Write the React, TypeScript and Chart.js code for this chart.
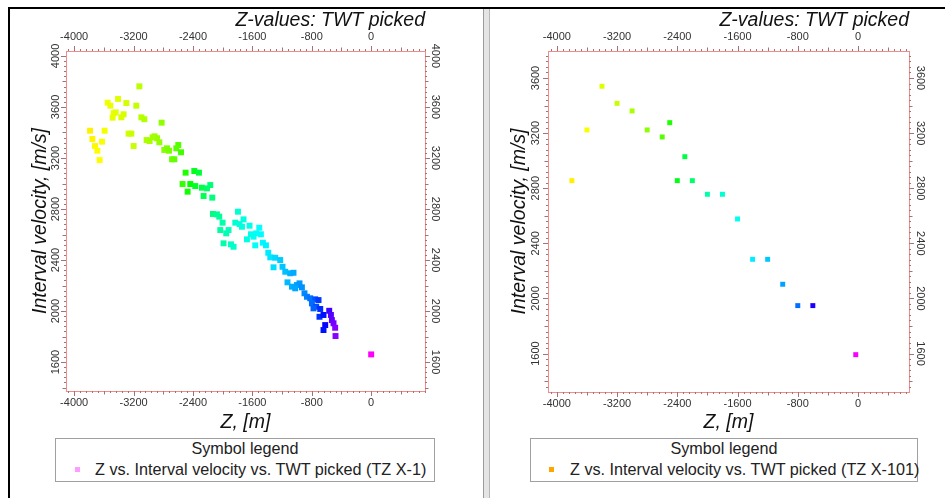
import React, { useEffect, useRef } from 'react';
import { Chart, registerables } from 'chart.js';

Chart.register(...registerables);

const FONT = "'Liberation Sans', Arial, sans-serif";

// ---- Well TZ X-1 : Z [m] and interval velocity [m/s] ----
const x1Z = [
  -3122, -3549, -3513, -3409, -3297, -3163, -3468, -3482, -3441, -3334,
  -3365, -3095, -3055, -2822, -3786, -3590, -3755, -3625, -3719, -3688,
  -3657, -3267, -3230, -3199, -3024, -2984, -2917, -2884, -2853, -2943,
  -2786, -2750, -2723, -2598, -2624, -2561, -2682, -2651, -2499, -2382,
  -2319, -2540, -2436, -2472, -2369, -2279, -2211, -2167, -2257, -2140,
  -2131, -2077, -2046, -1794, -2001, -1830, -1773, -1719, -1740, -1638,
  -1507, -1921, -1952, -2032, -1619, -1548, -1485, -1673, -1561, -1584,
  -1988, -1888, -1853, -1458, -1417, -1386, -1359, -1292, -1225, -1315,
  -1194, -1157, -1090, -1046, -1127, -1067, -1000, -965, -933, -1023,
  -898, -865, -821, -754, -709, -798, -740, -777, -686, -696,
  -642, -565, -542, -529, -507, -485, -619, -642, -480, 0,
];
const x1Velocity = [
  3762, 3634, 3610, 3663, 3631, 3610, 3551, 3516, 3558, 3543,
  3519, 3519, 3504, 3477, 3414, 3414, 3349, 3328, 3294, 3257,
  3184, 3391, 3391, 3294, 3341, 3333, 3370, 3355, 3323, 3362,
  3263, 3276, 3257, 3302, 3276, 3245, 3190, 3190, 3085, 3098,
  3085, 2996, 2996, 2936, 2980, 2967, 2962, 2988, 2902, 2889,
  2761, 2758, 2740, 2779, 2693, 2693, 2682, 2719, 2661, 2669,
  2653, 2635, 2609, 2635, 2602, 2609, 2602, 2562, 2515, 2583,
  2531, 2523, 2504, 2536, 2515, 2457, 2421, 2418, 2400, 2343,
  2347, 2308, 2296, 2300, 2225, 2191, 2204, 2217, 2186, 2178,
  2139, 2112, 2100, 2092, 2086, 2060, 2034, 2021, 2016, 1955,
  1969, 2002, 1969, 1929, 1904, 1869, 1890, 1851, 1804, 1660,
];

// ---- Well TZ X-101 ----
const x101Z = [
  -3800, -3600, -3400, -3200, -3000, -2800, -2600, -2500, -2400, -2300,
  -2200, -2000, -1800, -1600, -1400, -1200, -1000, -800, -600, -30,
];
const x101Velocity = [
  2855, 3223, 3540, 3416, 3361, 3223, 3172, 3276, 2855, 3029,
  2855, 2756, 2756, 2577, 2284, 2284, 2103, 1948, 1948, 1592,
];

// ---- tick labels ----
const zTickLabels = [-4000, -3200, -2400, -1600, -800, 0];
const x1VelTickLabels = [1600, 2000, 2400, 2800, 3200, 3600, 4000];
const x101VelTickLabels = [1600, 2000, 2400, 2800, 3200, 3600];

// ---- colour scale (hue by depth / TWT) ----
const hueStopZ = [-3850, -3600, -3200, -2800, -2600, -2400, -2200, -2000, -1800, -1600, -1400, -1200, -1000, -800, -650, -550, -480, 0];
const hueStopH = [55, 62, 73, 87, 100, 125, 145, 160, 170, 176, 184, 193, 202, 214, 235, 258, 272, 300];

function colorForZ(z: number): string {
  let h = hueStopH[0];
  if (z >= hueStopZ[hueStopZ.length - 1]) h = hueStopH[hueStopH.length - 1];
  else if (z > hueStopZ[0]) {
    for (let i = 0; i < hueStopZ.length - 1; i++) {
      if (z >= hueStopZ[i] && z <= hueStopZ[i + 1]) {
        const t = (z - hueStopZ[i]) / (hueStopZ[i + 1] - hueStopZ[i]);
        h = hueStopH[i] + t * (hueStopH[i + 1] - hueStopH[i]);
        break;
      }
    }
  }
  return `hsl(${h.toFixed(1)}, 100%, 50%)`;
}

const axisTickPlugin = {
  id: 'axisTicks',
  afterDraw(chart: any) {
    const ctx = chart.ctx;
    const a = chart.chartArea;
    ctx.save();
    ctx.strokeStyle = '#a87070';
    ctx.lineWidth = 1;
    ctx.beginPath();
    const each = (scale: any, step: number, mid: number, major: number, draw: (p: number, l: number) => void) => {
      const start = Math.ceil(scale.min / step) * step;
      for (let v = start; v <= scale.max + 1e-6; v += step) {
        const r = Math.round(v);
        const len = r % major === 0 ? 5 : r % mid === 0 ? 3.5 : 2;
        draw(Math.round(scale.getPixelForValue(v)) + 0.5, len);
      }
    };
    each(chart.scales.x, 80, 400, 800, (p, l) => { ctx.moveTo(p, a.bottom); ctx.lineTo(p, a.bottom + l); });
    each(chart.scales.x2, 80, 400, 800, (p, l) => { ctx.moveTo(p, a.top); ctx.lineTo(p, a.top - l); });
    each(chart.scales.y, 40, 200, 400, (p, l) => { ctx.moveTo(a.left, p); ctx.lineTo(a.left - l, p); });
    each(chart.scales.y2, 40, 200, 400, (p, l) => { ctx.moveTo(a.right, p); ctx.lineTo(a.right + l, p); });
    ctx.stroke();
    ctx.restore();
  },
};

type ChartProps = {
  z: number[];
  vel: number[];
  xMin: number;
  xMax: number;
  yMin: number;
  yMax: number;
  yTicks: number[];
  left: number;
  width: number;
  areaLeft: number;
  areaRight: number;
  areaBottom: number;
  yTitlePad: number;
  yPad: number;
  y2Pad: number;
  pointRadius: number;
};

const CANVAS_TOP = 9;
const CANVAS_H = 425;
const AREA_TOP = 42;

function VelocityChart(p: ChartProps) {
  const ref = useRef<HTMLCanvasElement>(null);
  useEffect(() => {
    if (!ref.current) return;
    const tickFont = { family: FONT, size: 11 };
    const titleFont = { family: FONT, size: 19.5, style: 'italic' as const };
    const baseAxis = {
      type: 'linear' as const,
      grid: { display: false, drawTicks: false, drawOnChartArea: false },
      border: { display: true, color: '#f08c8c', width: 1 },
    };
    const tickLabelsX = (s: any) => { s.ticks = zTickLabels.map((v) => ({ value: v })); };
    const tickLabelsY = (s: any) => { s.ticks = p.yTicks.map((v) => ({ value: v })); };
    const fmt = (v: any) => String(v);
    const chart = new Chart(ref.current, {
      type: 'scatter',
      data: {
        datasets: [
          {
            data: p.z.map((x, i) => ({ x, y: p.vel[i] })),
            pointStyle: 'rect',
            pointRadius: p.pointRadius,
            pointHoverRadius: p.pointRadius,
            backgroundColor: p.z.map(colorForZ),
            borderWidth: 0,
          },
        ],
      },
      options: {
        animation: false,
        responsive: false,
        maintainAspectRatio: false,
        events: [],
        layout: { padding: 0 },
        plugins: { legend: { display: false }, tooltip: { enabled: false } },
        scales: {
          x: {
            ...baseAxis,
            position: 'bottom',
            min: p.xMin,
            max: p.xMax,
            afterBuildTicks: tickLabelsX,
            afterFit: (s: any) => { s.height = CANVAS_H - p.areaBottom; },
            ticks: { font: tickFont, color: '#333', padding: 5, autoSkip: false, maxRotation: 0, minRotation: 0, callback: fmt },
            title: { display: true, text: 'Z, [m]', font: titleFont, color: '#111', padding: { top: 0, bottom: 0 } },
          },
          x2: {
            ...baseAxis,
            axis: 'x',
            position: 'top',
            min: p.xMin,
            max: p.xMax,
            afterBuildTicks: tickLabelsX,
            afterFit: (s: any) => { s.height = AREA_TOP; },
            ticks: { font: tickFont, color: '#333', padding: 7, autoSkip: false, maxRotation: 0, minRotation: 0, callback: fmt },
            title: { display: true, text: 'Z-values: TWT picked', align: 'end', font: titleFont, color: '#111', padding: { top: 0, bottom: 0 } },
          },
          y: {
            ...baseAxis,
            position: 'left',
            min: p.yMin,
            max: p.yMax,
            afterBuildTicks: tickLabelsY,
            afterFit: (s: any) => { s.width = p.areaLeft; },
            ticks: { font: tickFont, color: '#333', padding: p.yPad, autoSkip: false, minRotation: 90, maxRotation: 90, crossAlign: 'center', callback: fmt },
            title: { display: true, text: 'Interval velocity, [m/s]', font: titleFont, color: '#111', padding: { top: p.yTitlePad, bottom: 0 } },
          },
          y2: {
            ...baseAxis,
            axis: 'y',
            position: 'right',
            min: p.yMin,
            max: p.yMax,
            afterBuildTicks: tickLabelsY,
            afterFit: (s: any) => { s.width = p.width - p.areaRight; },
            ticks: { font: tickFont, color: '#333', padding: p.y2Pad, autoSkip: false, minRotation: -90, maxRotation: 90, crossAlign: 'center', callback: fmt },
          },
        },
      } as any,
      plugins: [axisTickPlugin],
    });
    return () => chart.destroy();
  }, []);
  return (
    <canvas
      ref={ref}
      width={p.width}
      height={CANVAS_H}
      style={{ position: 'absolute', left: p.left, top: CANVAS_TOP, width: p.width, height: CANVAS_H }}
    />
  );
}

type LegendProps = { left: number; width: number; markerX: number; textX: number; color: string; label: string };

function SymbolLegend(l: LegendProps) {
  const top = 438;
  return (
    <div
      style={{
        position: 'absolute',
        left: l.left,
        top,
        width: l.width,
        height: 44,
        border: '1px solid #a0a0a0',
        boxSizing: 'border-box',
        fontFamily: FONT,
        color: '#222',
        background: '#fff',
      }}
    >
      <div style={{ position: 'absolute', left: 0, right: 0, top: 0, textAlign: 'center', fontSize: 16.2, lineHeight: '19px' }}>
        Symbol legend
      </div>
      <div
        style={{ position: 'absolute', left: l.markerX - l.left - 3.5, top: 469 - top - 3.5, width: 5, height: 5, background: l.color }}
      />
      <div style={{ position: 'absolute', left: l.textX - l.left - 1, top: 21, fontSize: 16.2, lineHeight: '19px', whiteSpace: 'nowrap' }}>
        {l.label}
      </div>
    </div>
  );
}

export default function App() {
  return (
    <div style={{ position: 'absolute', left: 0, top: 0, width: 945, height: 498, background: '#fff', overflow: 'hidden' }}>
      <VelocityChart
        z={x1Z}
        vel={x1Velocity}
        xMin={-4110}
        xMax={725}
        yMin={1373}
        yMax={4039}
        yTicks={x1VelTickLabels}
        left={9}
        width={474}
        areaLeft={57}
        areaRight={416}
        areaBottom={382}
        yTitlePad={20}
        yPad={-2.25}
        y2Pad={-1.75}
        pointRadius={4.2}
      />
      <VelocityChart
        z={x101Z}
        vel={x101Velocity}
        xMin={-4117}
        xMax={677}
        yMin={1321}
        yMax={3796}
        yTicks={x101VelTickLabels}
        left={490}
        width={455}
        areaLeft={58}
        areaRight={419}
        areaBottom={383}
        yTitlePad={17.6}
        yPad={-0.25}
        y2Pad={-0.75}
        pointRadius={3.5}
      />
      <SymbolLegend
        left={55}
        width={380}
        markerX={77}
        textX={95}
        color="#ff9cff"
        label="Z vs. Interval velocity vs. TWT picked (TZ X-1)"
      />
      <SymbolLegend
        left={530}
        width={388}
        markerX={551}
        textX={570}
        color="#ffa500"
        label="Z vs. Interval velocity vs. TWT picked (TZ X-101)"
      />
      <div style={{ position: 'absolute', left: 8, top: 7, width: 937, height: 2, background: '#000' }} />
      <div style={{ position: 'absolute', left: 8, top: 7, width: 2, height: 491, background: '#000' }} />
      <div
        style={{
          position: 'absolute',
          left: 483,
          top: 9,
          width: 7,
          height: 489,
          background: '#e4e4e4',
          borderLeft: '1px solid #9c9c9c',
          borderRight: '1px solid #b8b8b8',
          boxSizing: 'border-box',
        }}
      />
    </div>
  );
}
